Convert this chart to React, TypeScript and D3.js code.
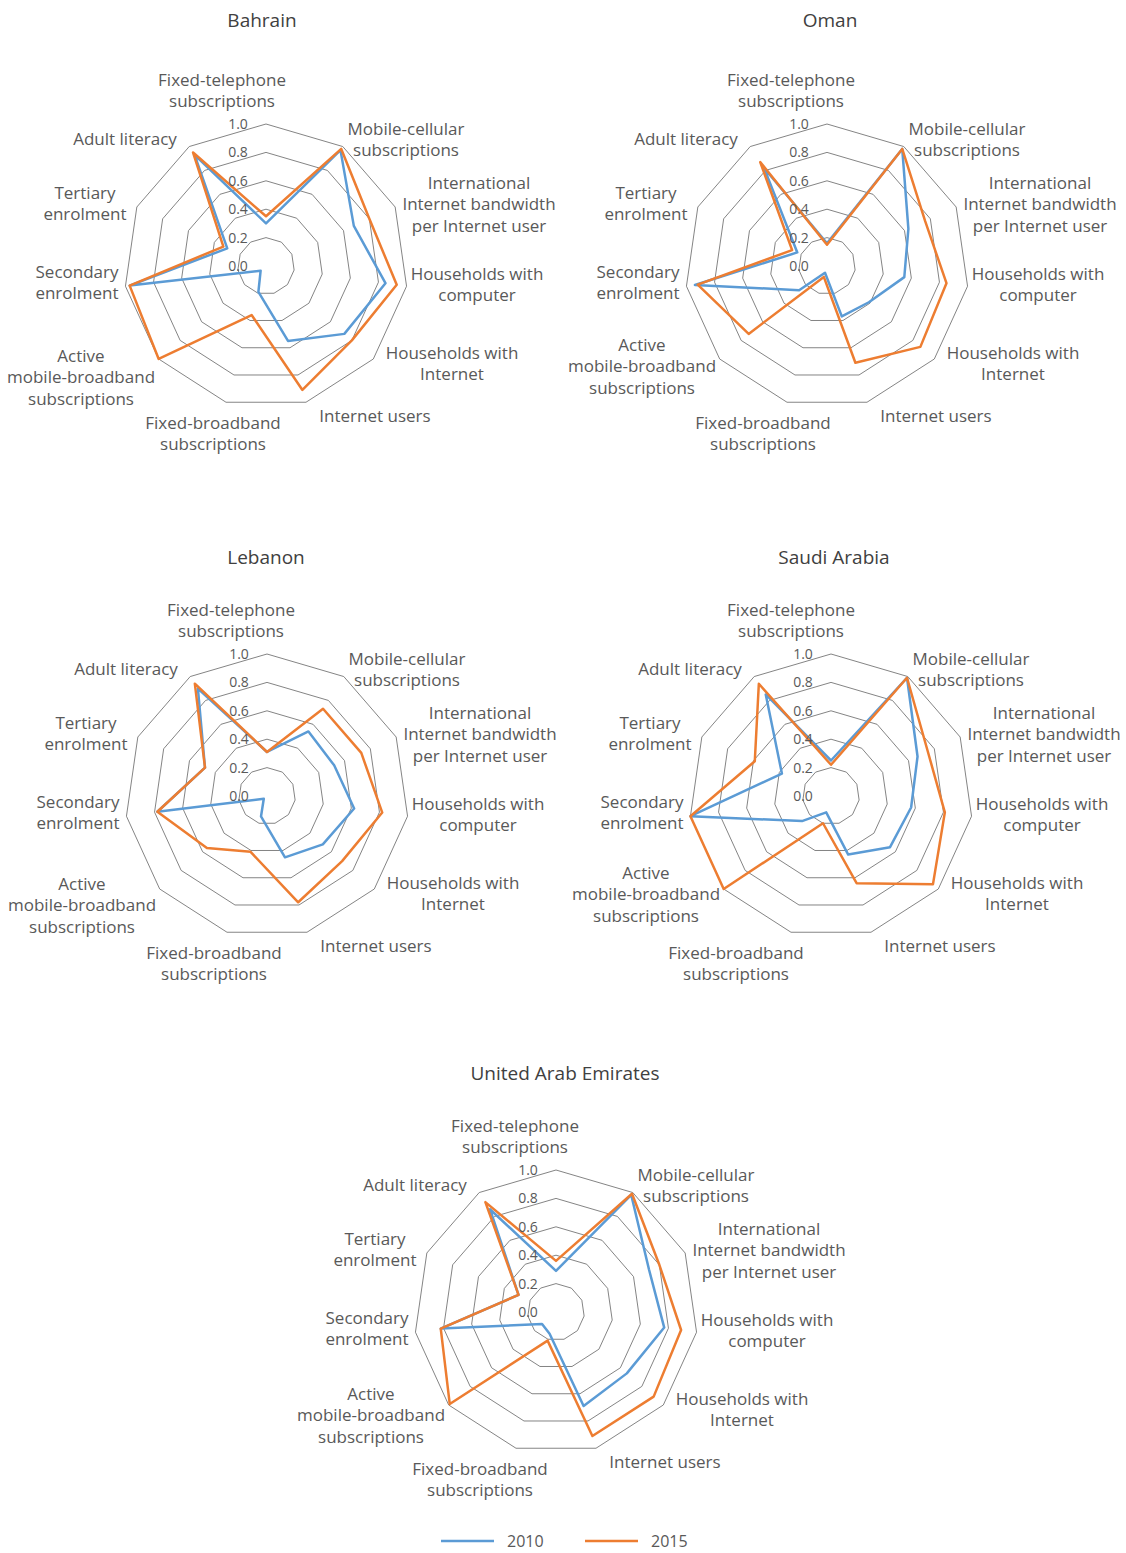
import React from "react";
import * as d3 from "d3";

// axis categories, clockwise from the top
const categories = [
  ["Fixed-telephone", "subscriptions"],
  ["Mobile-cellular", "subscriptions"],
  ["International", "Internet bandwidth", "per Internet user"],
  ["Households with", "computer"],
  ["Households with", "Internet"],
  ["Internet users"],
  ["Fixed-broadband", "subscriptions"],
  ["Active", "mobile-broadband", "subscriptions"],
  ["Secondary", "enrolment"],
  ["Tertiary", "enrolment"],
  ["Adult literacy"],
];

const ticks = [0, 0.2, 0.4, 0.6, 0.8, 1.0];
const years = ["2010", "2015"];

const bahrain2010 = [0.3, 0.97, 0.68, 0.85, 0.73, 0.55, 0.19, 0.05, 0.97, 0.3, 0.93];
const bahrain2015 = [0.35, 0.98, 0.8, 0.93, 0.8, 0.91, 0.36, 1.0, 0.97, 0.33, 0.95];
const oman2010 = [0.16, 0.98, 0.63, 0.55, 0.39, 0.37, 0.05, 0.26, 0.94, 0.23, 0.82];
const oman2015 = [0.15, 0.98, 0.76, 0.85, 0.87, 0.71, 0.08, 0.73, 0.92, 0.27, 0.87];
const lebanon2010 = [0.31, 0.54, 0.52, 0.62, 0.52, 0.45, 0.15, 0.03, 0.78, 0.48, 0.9];
const lebanon2015 = [0.31, 0.73, 0.73, 0.82, 0.7, 0.78, 0.41, 0.56, 0.78, 0.48, 0.94];
const saudi2010 = [0.25, 0.99, 0.67, 0.57, 0.55, 0.43, 0.12, 0.27, 1.0, 0.38, 0.85];
const saudi2015 = [0.22, 0.99, 0.75, 0.81, 0.95, 0.64, 0.2, 1.0, 1.0, 0.59, 0.94];
const uae2010 = [0.29, 0.98, 0.72, 0.77, 0.66, 0.69, 0.16, 0.13, 0.82, 0.29, 0.86];
const uae2015 = [0.36, 0.99, 0.8, 0.89, 0.91, 0.91, 0.21, 0.99, 0.82, 0.29, 0.92];

const countries = ["Bahrain", "Oman", "Lebanon", "Saudi Arabia", "United Arab Emirates"];
const series = [
  [bahrain2010, bahrain2015],
  [oman2010, oman2015],
  [lebanon2010, lebanon2015],
  [saudi2010, saudi2015],
  [uae2010, uae2015],
];

// layout (page pixels)
const W = 1126;
const H = 1553;
const R = 142;
const colors = ["#5B9BD5", "#ED7D31"];
const textColor = "#595959";
const FONT = "'Open Sans', 'Noto Sans', sans-serif";

const layout = [
  { cx: 266, cy: 266, tx: 262, ty: 20, fbDx: -53, amDy: 90, ftDx: -44 },
  { cx: 827, cy: 266, tx: 830, ty: 20, fbDx: -64, amDy: 79, ftDx: -36 },
  { cx: 267, cy: 796, tx: 266, ty: 557, fbDx: -53, amDy: 88, ftDx: -36 },
  { cx: 831, cy: 796, tx: 834, ty: 557, fbDx: -95, amDy: 77, ftDx: -40 },
  { cx: 556, cy: 1312, tx: 565, ty: 1073, fbDx: -76, amDy: 82, ftDx: -41 },
];

// label offsets from the chart centre: [dx, dy of first line]
const labelOffsets = [
  [-40, -186],
  [140, -137],
  [213, -83],
  [211, 8],
  [186, 87],
  [109, 150],
  [-60, 157],
  [-185, 85],
  [-189, 6],
  [-181, -73],
  [-141, -127],
];
const lineH = 21.5;

const n = categories.length;
const angle = d3.scaleLinear().domain([0, n]).range([0, 2 * Math.PI]);
const r = d3.scaleLinear().domain([0, 1]).range([0, R]);

const radial = d3
  .lineRadial<number>()
  .angle((_, i) => angle(i))
  .radius((d) => r(d))
  .curve(d3.curveLinearClosed);

const Radar = ({ idx }: { idx: number }) => {
  const L = layout[idx];
  const data = series[idx];
  return (
    <g>
      <text
        x={L.tx}
        y={L.ty}
        dy="0.35em"
        textAnchor="middle"
        fontSize={19}
        fill="#404040"
        fontFamily={FONT}
      >
        {countries[idx]}
      </text>
      <g transform={`translate(${L.cx},${L.cy})`}>
        {ticks.slice(1).map((t) => (
          <path
            key={t}
            d={radial(new Array(n).fill(t)) || ""}
            fill="none"
            stroke="#767676"
            strokeWidth={0.9}
          />
        ))}
        {data.map((vals, s) => (
          <path
            key={s}
            d={radial(vals) || ""}
            fill="none"
            stroke={colors[s]}
            strokeWidth={2.5}
            strokeLinejoin="round"
          />
        ))}
        {ticks.map((t) => (
          <text
            key={t}
            x={-28}
            y={-r(t)}
            dy="0.35em"
            textAnchor="middle"
            fontSize={14}
            fill={textColor}
            fontFamily={FONT}
          >
            {t.toFixed(1)}
          </text>
        ))}
        {categories.map((lines, i) => {
          let [dx, dy] = labelOffsets[i];
          if (i === 0) dx = L.ftDx;
          if (i === 6) dx = L.fbDx;
          if (i === 7) dy = L.amDy;
          return (
            <text
              key={i}
              textAnchor="middle"
              fontSize={17}
              fill={textColor}
              fontFamily={FONT}
            >
              {lines.map((ln, j) => (
                <tspan key={j} x={dx} y={dy + j * lineH} dy="0.35em">
                  {ln}
                </tspan>
              ))}
            </text>
          );
        })}
      </g>
    </g>
  );
};

export default function App() {
  const legendX = [441, 585];
  return (
    <svg
      width={W}
      height={H}
      style={{ position: "absolute", top: 0, left: 0, background: "#fff" }}
    >
      {countries.map((_, i) => (
        <Radar key={i} idx={i} />
      ))}
      {years.map((y, i) => (
        <g key={y} transform={`translate(${legendX[i]},1541)`}>
          <line x1={0} x2={53} y1={0} y2={0} stroke={colors[i]} strokeWidth={2.5} />
          <text x={66} dy="0.35em" fontSize={16} fill={textColor} fontFamily={FONT}>
            {y}
          </text>
        </g>
      ))}
    </svg>
  );
}
